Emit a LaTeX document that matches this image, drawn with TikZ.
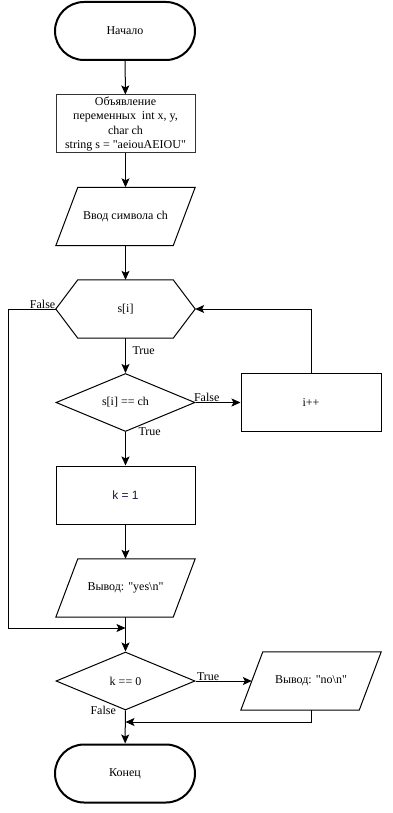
\documentclass[tikz,border=0pt]{standalone}
\usepackage{fontspec}
\setmainfont{Liberation Serif}[Ligatures=TeXOff]
\newfontfamily\arialfont{Liberation Sans}
\usetikzlibrary{arrows.meta,shapes.geometric,calc}
\definecolor{kblue}{RGB}{24,24,72}

\begin{document}
\begin{tikzpicture}[x=1pt, y=-1pt,
  every node/.style={font=\fontsize{12}{14}\selectfont},
  line/.style={line width=1pt, black},
  arr/.style={line, -{Stealth[length=9pt, width=8pt, inset=2pt]}},
  term/.style={draw, line width=2pt, rounded corners=29pt, minimum width=140pt, minimum height=58pt},
  proc/.style={draw, line width=1pt, minimum width=139pt, minimum height=58pt, inner sep=0pt, align=center},
  ghost/.style={minimum width=139pt, minimum height=58pt, inner sep=0pt},
  cond/.style={diamond, draw, line width=1pt, minimum width=139pt, minimum height=58pt, inner sep=0pt, aspect=2.4},
  lbl/.style={inner sep=0pt}
]
\useasboundingbox (0,0) rectangle (393,813);

% Start and declarations
\node[term] (start) at (125,31) {Начало};
\node[proc, draw=black!80, font=\fontsize{12}{14.5}\selectfont] (decl) at (125.5,124)
  {Объявление\\переменных\ \ int x, y,\\char ch\\string s = "aeiouAEIOU"};

% Input (parallelogram)
\node[ghost] (inp) at (125.5,216.5) {Ввод символа ch};
\draw[line] ($(inp.north west)+(22,0)$) -- (inp.north east) -- ($(inp.south east)+(-22,0)$) -- (inp.south west) -- cycle;

% Loop head (hexagon)
\node[ghost] (hex) at (125.5,309) {s[i]};
\draw[line] (hex.west) -- ($(hex.north west)+(22,0)$) -- ($(hex.north east)+(-22,0)$) -- (hex.east)
  -- ($(hex.south east)+(-22,0)$) -- ($(hex.south west)+(22,0)$) -- cycle;

% Compare and step
\node[cond] (cmp) at (125.5,402.5) {s[i] == ch};
\node[proc, minimum width=140pt] (inc) at (311,402.5) {i++};

% Found branch
\node[proc] (setk) at (125.5,495) {\arialfont\color{kblue}k = 1};
\node[ghost] (yes) at (125.5,588) {Вывод: "yes\textbackslash n"};
\draw[line] ($(yes.north west)+(22,0)$) -- (yes.north east) -- ($(yes.south east)+(-22,0)$) -- (yes.south west) -- cycle;

% Final check
\node[cond] (chk) at (125.5,681) {k == 0};
\node[ghost, minimum width=140pt] (no) at (311,681) {Вывод: "no\textbackslash n"};
\draw[line] ($(no.north west)+(22,0)$) -- (no.north east) -- ($(no.south east)+(-22,0)$) -- (no.south west) -- cycle;

\node[term] (finish) at (125,773.5) {Конец};

% Joins on the main line
\coordinate (join1) at (125.5,628);
\coordinate (join2) at (125.5,722);

% Connectors
\draw[arr] (start) -- (decl);
\draw[arr] (decl) -- (inp);
\draw[arr] (inp) -- (hex);
\draw[arr] (hex) -- node[lbl, anchor=base west, pos=0, xshift=6.5pt, yshift=-16pt] {True} (cmp);
\draw[arr] (cmp) -- node[lbl, anchor=base west, pos=0, xshift=-2pt, yshift=1.5pt] {False} (inc);
\draw[arr] (inc.north) |- (hex.east);
\draw[arr] (cmp) -- node[lbl, anchor=base west, pos=0, xshift=12.5pt, yshift=-3pt] {True} (setk);
\draw[arr] (setk) -- (yes);
\draw[arr] (hex.west) -- node[lbl, anchor=base east, pos=0, yshift=1pt] {False} ++(-47,0) |- (join1);
\draw[arr] (yes) -- (chk);
\draw[arr] (chk) -- node[lbl, anchor=base west, pos=0, xshift=1pt, yshift=1pt] {True} ($(no.west)+(11,0)$);
\draw[arr] (no.south) |- (join2);
\draw[arr] (chk) -- node[lbl, anchor=base east, pos=0, xshift=-9pt, yshift=-4pt] {False} (finish);
\end{tikzpicture}
\end{document}
